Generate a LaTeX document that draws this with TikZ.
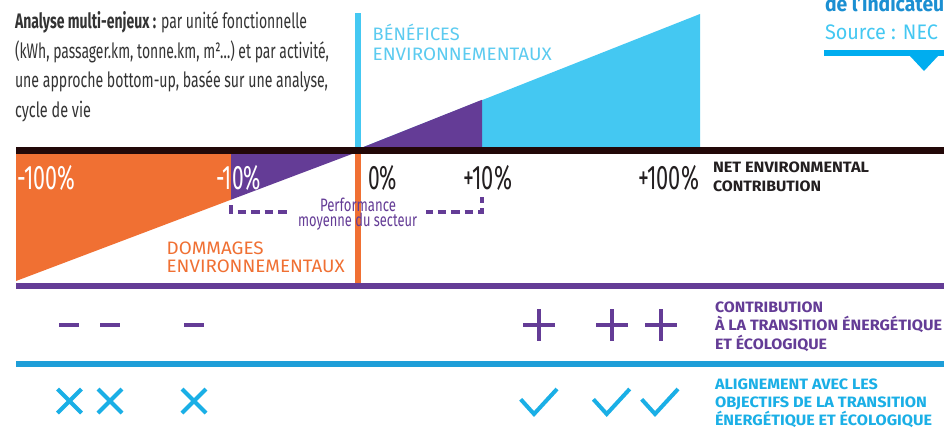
\documentclass[tikz,border=0pt]{standalone}
\usepackage{fontspec}
\setmainfont{Fira Sans}
\usepackage{graphicx}
\definecolor{orng}{HTML}{F07033}
\definecolor{purp}{HTML}{643C96}
\definecolor{lblue}{HTML}{44C8F2}
\definecolor{blk}{HTML}{220808}
\definecolor{bline}{HTML}{1E9ED8}
\definecolor{cyantwo}{HTML}{1AAFE6}
\definecolor{srcblue}{HTML}{00ADEF}
\definecolor{txtgrey}{HTML}{333333}
\definecolor{benef}{HTML}{5CCBF0}
\definecolor{dblue}{HTML}{1B8FD2}
\definecolor{darktxt}{HTML}{231F20}
\newcommand\fw[2]{\resizebox{#1pt}{\height}{#2}}
\begin{document}
\begin{tikzpicture}[x=1pt,y=-1pt,
  txt/.style={inner sep=0pt, outer sep=0pt, anchor=base west},
  intro/.style={txt, text=txtgrey, font=\fontsize{21}{21}\selectfont},
  pct/.style={txt, font=\fontsize{34}{34}\selectfont},
  caplbl/.style={txt, font=\fontsize{18}{18}\selectfont},
  boldlbl/.style={txt, font=\fontsize{15}{15}\selectfont\bfseries},
  perf/.style={txt, text=purp, font=\fontsize{18}{18}\selectfont},
  bracket/.style={purp, line width=3.2pt, dash pattern=on 8.5pt off 5pt},
  minusmark/.pic={\fill[purp] (-10,-2.2) rectangle (10,2.2);},
  plusmark/.pic={\draw[purp, line width=4pt] (-16,0) -- (16,0) (0,-16) -- (0,16);},
  crossmark/.pic={\draw[cyantwo, line width=4pt] (-12,-12) -- (12,12) (-12,12) -- (12,-12);},
  checkmark/.pic={\draw[cyantwo, line width=4pt] (-18.3,9.3) -- (-5,24) -- (18,-1);}
]
\useasboundingbox (0,0) rectangle (944,428);
\clip (0,0) rectangle (944,428);
\fill[white] (0,0) rectangle (944,428);

% benefits triangle
\fill[lblue] (361,148) -- (700,14) -- (700,148) -- cycle;
\fill[purp] (361,148) -- (482,99.8) -- (482,148) -- cycle;
\fill[lblue] (355,13) rectangle (361,150);

% damages triangle
\fill[orng] (16,154) -- (231,154) -- (231,199.7) -- (16,281) -- cycle;
\fill[purp] (231,154) -- (352,154) -- (231,199.7) -- cycle;
\fill[orng] (355,154) rectangle (361,284);

% bars
\fill[blk] (16,147) rectangle (944,154);
\fill[purp] (16,283) rectangle (944,289);
\fill[bline] (16,361) rectangle (944,367);

% intro text
\node[intro] (l1) at (15,29) {\fw{292}{\textbf{Analyse multi-enjeux :} par unité fonctionnelle}};
\node[intro] (l2) at (15,58.5) {\fw{314}{(kWh, passager.km, tonne.km, m²…) et par activité,}};
\node[intro] (l3) at (15,88) {\fw{313}{une approche bottom-up, basée sur une analyse,}};
\node[intro] (l4) at (15,117.5) {\fw{76}{cycle de vie}};

% top right
\node[txt, text=dblue, font=\fontsize{21}{21}\selectfont\bfseries] (s0) at (825,12) {\fw{127}{de l'indicateur}};
\node[txt, text=lblue, font=\fontsize{21}{21}\selectfont] (s1) at (825,40) {\fw{113}{Source : NEC}};
\fill[srcblue] (824,50) rectangle (944,56.5);
\fill[srcblue] (910,56) -- (938,56) -- (924,71) -- cycle;

% labels
\node[caplbl, text=benef] (b1) at (372.7,41) {\fw{87}{BÉNÉFICES}};
\node[caplbl, text=benef] (b2) at (372.7,60) {\fw{179}{ENVIRONNEMENTAUX}};
\node[caplbl, text=orng] (d1) at (166.7,254) {\fw{97}{DOMMAGES}};
\node[caplbl, text=orng] (d2) at (166.7,272.7) {\fw{178}{ENVIRONNEMENTAUX}};

% percentages
\node[pct, text=white] (p1) at (17,189.5) {\fw{58}{-100\%}};
\node[pct, text=white] (p2) at (216,189.5) {\fw{45}{-10\%}};
\node[pct, text=darktxt] (p3) at (368,189.5) {\fw{29}{0\%}};
\node[pct, text=darktxt] (p4) at (463,189.5) {\fw{49}{+10\%}};
\node[pct, text=darktxt] (p5) at (638,189.5) {\fw{61}{+100\%}};

\node[boldlbl, text=darktxt] (n1) at (713,172) {\fw{156}{NET ENVIRONMENTAL}};
\node[boldlbl, text=darktxt] (n2) at (713,191) {\fw{108}{CONTRIBUTION}};

% sector performance bracket
\coordinate (bl0) at (231,205);
\coordinate (bl1) at (231,212);
\coordinate (bl2) at (289,212);
\coordinate (br0) at (426,212);
\coordinate (br1) at (482,212);
\coordinate (br2) at (482,197);
\draw[bracket] (bl0) -- (bl1) -- (bl2);
\draw[bracket, dash phase=2pt] (br0) -- (br1) -- (br2);
\node[perf] (pf1) at (320,211.7) {\fw{76}{Performance}};
\node[perf] (pf2) at (298,226.5) {\fw{119}{moyenne du secteur}};

% contribution row
\pic at (69,325) {minusmark};
\pic at (110,325) {minusmark};
\pic at (194,325) {minusmark};
\pic at (539,325) {plusmark};
\pic at (612,325) {plusmark};
\pic at (661,325) {plusmark};
\node[boldlbl, text=purp] (c1) at (715,312.7) {\fw{108}{CONTRIBUTION}};
\node[boldlbl, text=purp] (c2) at (715,330.8) {\fw{227}{À LA TRANSITION ÉNERGÉTIQUE}};
\node[boldlbl, text=purp] (c3) at (715,349.5) {\fw{112}{ET ÉCOLOGIQUE}};

% alignment row
\pic at (69.5,401) {crossmark};
\pic at (110,401) {crossmark};
\pic at (194,401) {crossmark};
\pic at (539,390) {checkmark};
\pic at (611.7,390) {checkmark};
\pic at (660,390) {checkmark};
\node[boldlbl, text=cyantwo] (a1) at (715,389.5) {\fw{163}{ALIGNEMENT AVEC LES}};
\node[boldlbl, text=cyantwo] (a2) at (715,407.5) {\fw{212}{OBJECTIFS DE LA TRANSITION}};
\node[boldlbl, text=cyantwo] (a3) at (715,425.5) {\fw{217}{ÉNERGÉTIQUE ET ÉCOLOGIQUE}};
\end{tikzpicture}
\end{document}
